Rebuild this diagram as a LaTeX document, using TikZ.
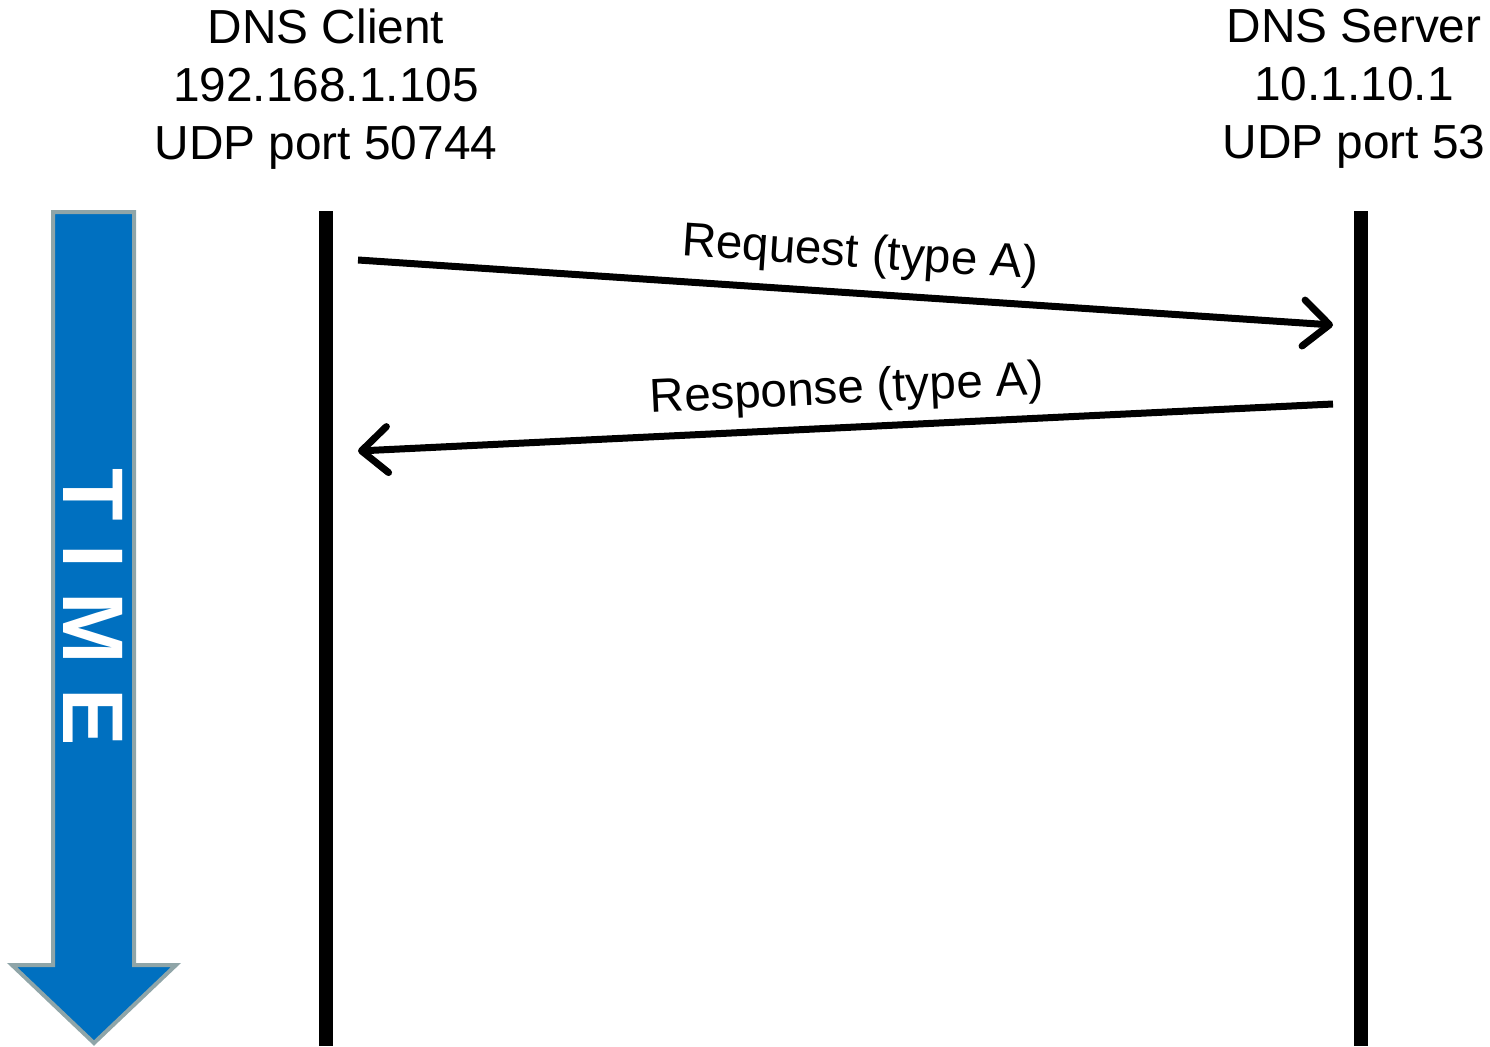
\documentclass[tikz,border=0pt]{standalone}
\usepackage{fontspec}
\setmainfont{Liberation Sans}
\usetikzlibrary{arrows.meta}
\definecolor{timeblue}{HTML}{0070C0}
\definecolor{timeedge}{HTML}{8FA5A8}
\begin{document}
\begin{tikzpicture}[x=1pt,y=-1pt,
  hdr/.style={align=center,font=\fontsize{47.8}{58}\selectfont,inner sep=0pt},
  lbl/.style={font=\fontsize{47.6}{54}\selectfont,inner sep=0pt},
  life/.style={line width=14pt},
  msg/.style={line width=7pt,-{Straight Barb[length=26pt,width=46pt,line cap=round,line join=round]}}]
\useasboundingbox (0,0) rectangle (1490,1046);
% time arrow
\draw[fill=timeblue,draw=timeedge,line width=4pt,line join=miter]
  (53,212) -- (134,212) -- (134,965) -- (176,965) -- (94,1043) -- (12,965) -- (53,965) -- cycle;
\node[rotate=-90,text=white,font=\fontsize{86}{86}\bfseries\selectfont,inner sep=0pt] (time) at (93,607) {T I M E};
% headers
\node[hdr,anchor=north] (client) at (326,9) {DNS Client\\192.168.1.105\\UDP port 50744};
\node[hdr,anchor=north] (server) at (1354,9) {DNS Server\\10.1.10.1\\UDP port 53};
% lifelines
\coordinate (ctop) at (326,211);
\coordinate (cbot) at (326,1046);
\coordinate (stop) at (1361,211);
\coordinate (sbot) at (1361,1046);
\draw[life] (ctop) -- (cbot);
\draw[life] (stop) -- (sbot);
% messages
\coordinate (rq1) at (358,260);
\coordinate (rq2) at (1333,325);
\coordinate (rs1) at (1333,404);
\coordinate (rs2) at (358,451);
\draw[msg] (rq1) -- (rq2);
\draw[msg] (rs1) -- (rs2);
\node[lbl,rotate=-3.81] (reqlbl) at (860,255) {Request (type A)};
\node[lbl,rotate=2.76] (reslbl) at (847,391) {Response (type A)};
\end{tikzpicture}
\end{document}
